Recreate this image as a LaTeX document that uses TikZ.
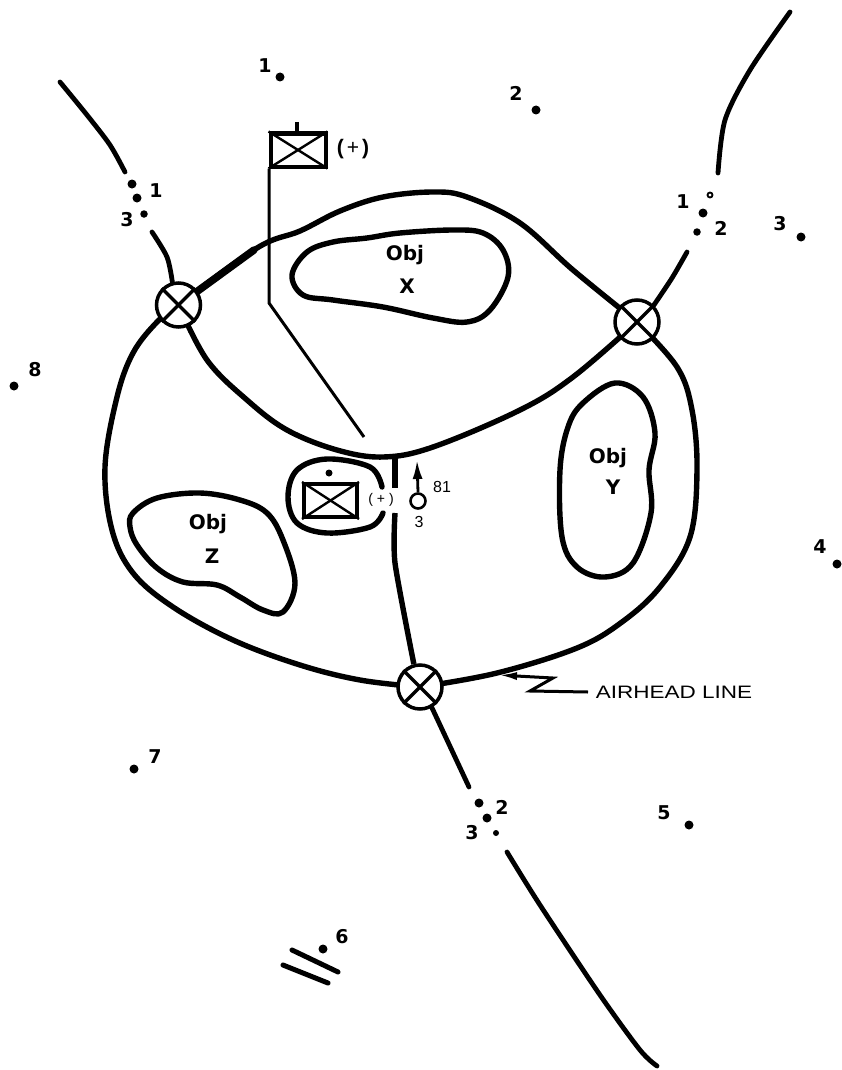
\documentclass[tikz,border=0pt]{standalone}
\usepackage{fontspec}
\setmainfont{Liberation Sans}
\newfontfamily\heavy{DejaVu Sans}
\usetikzlibrary{arrows.meta}
\tikzset{
  x=1pt,y=-1pt,
  airline/.style={line width=5.4pt,line cap=round,line join=round},
  road/.style={line width=4.8pt,line cap=round,line join=round},
  thinline/.style={line width=3pt,line join=miter},
  cp/.style={circle,line width=3.5pt,minimum size=44pt,inner sep=0pt},
  crossx/.style={line width=3.4pt},
  unitbox/.style={draw,line width=4pt,inner sep=0pt,fill=white},
  boxx/.style={line width=2.4pt},
  num/.style={font=\heavy\fontsize{19}{19}\selectfont\bfseries,inner sep=0pt},
  objt/.style={font=\heavy\fontsize{20}{20}\selectfont\bfseries,inner sep=0pt},
  small/.style={font=\fontsize{16}{16}\selectfont,inner sep=0pt},
  dotb/.style={circle,fill=black,inner sep=0pt,minimum size=9pt},
  dotm/.style={circle,fill=black,inner sep=0pt,minimum size=7.5pt},
  dots/.style={circle,fill=black,inner sep=0pt,minimum size=6pt},
}
\begin{document}
\begin{tikzpicture}
\useasboundingbox (0,0) rectangle (842,1070);
% control points
\node[cp] (A) at (178.5,305) {};
\node[cp] (B) at (637,322) {};
\node[cp] (C) at (420,687) {};
\coordinate (J) at (395,456);
% airhead line
\draw[airline] plot[smooth,tension=0.6] coordinates {(A.center) (157,322) (133,353) (117,397) (105,467) (112,530) (133,573) (173,607) (233,640) (300,665) (360,680) (C.center)};
\draw[airline] plot[smooth,tension=0.6] coordinates {(A.center) (257,248) (300,231) (340,211) (383,197) (433,192) (467,197) (520,223) (573,270) (B.center)};
\draw[line width=7.5pt,line cap=round] (A.center) -- (254,250);
\draw[airline] plot[smooth,tension=0.6] coordinates {(A.center) (207,360) (247,400) (287,430) (337,450) (383,457) (433,447) (520,410) (573,377) (B.center)};
\draw[airline] plot[smooth,tension=0.6] coordinates {(B.center) (677,367) (692,410) (697,470) (690,537) (660,587) (622,622) (577,648) (497,673) (C.center)};
% central boundary
\coordinate (V1) at (395,488);
\coordinate (V2) at (395,513);
\draw[line width=6pt] (J) -- (V1);
\draw[line width=5.4pt] plot[smooth,tension=0.4] coordinates {(V2) (395,563) (C.105)};
% roads
\coordinate (Sa) at (469,787);
\coordinate (Sb) at (507,852);
\coordinate (Se) at (657,1066);
\draw[road] (C.300) -- (Sa);
\draw[road] plot[smooth,tension=0.5] coordinates {(Sb) (540,905) (600,995) (640,1050) (Se)};
\coordinate (Wa) at (60,82);
\coordinate (Wb) at (125,172);
\coordinate (Wc) at (152,232);
\draw[road] plot[smooth,tension=0.5] coordinates {(Wa) (87,115) (110,145) (Wb)};
\draw[road] plot[smooth,tension=0.5] coordinates {(Wc) (167,257) (A.105)};
\coordinate (Ea) at (790,12);
\coordinate (Eb) at (718,173);
\coordinate (Ec) at (687,252);
\draw[road] plot[smooth,tension=0.5] coordinates {(Ea) (750,70) (725,120) (Eb)};
\draw[road] plot[smooth,tension=0.5] coordinates {(Ec) (672,278) (B.45)};
% control point symbols on top
\foreach \n in {A,B,C}{
  \draw[cp,draw,fill=white] (\n) circle (22);
  \draw[crossx] (\n.45) -- (\n.225);
  \draw[crossx] (\n.135) -- (\n.315);
}
% objectives
\draw[airline] plot[smooth cycle,tension=0.6] coordinates {(333,242) (307,252) (292,275) (303,295) (333,300) (383,307) (433,318) (467,322) (490,310) (508,277) (503,250) (483,233) (453,230) (400,233) (367,238)};
\draw[airline] plot[smooth cycle,tension=0.6] coordinates {(615,383) (583,403) (568,427) (560,470) (562,537) (577,567) (605,577) (633,563) (651,513) (649,470) (655,433) (643,397)};
\draw[airline] plot[smooth cycle,tension=0.6] coordinates {(133,513) (157,498) (200,493) (240,500) (267,513) (283,540) (295,583) (283,612) (263,610) (240,597) (217,585) (183,582) (157,568) (137,545) (130,527)};
\node[objt] (ox) at (405,255) {Obj};
\node[objt] (xx) at (407,286) {X};
\node[objt] (oy) at (608,458) {Obj};
\node[objt] (yy) at (613,487) {Y};
\node[objt] (oz) at (208,524) {Obj};
\node[objt] (zz) at (212,556) {Z};
% reserve unit flag
\node[unitbox,minimum width=55pt,minimum height=33pt] (F) at (298,150) {};
\draw[boxx] (F.north west) -- (F.south east);
\draw[boxx] (F.north east) -- (F.south west);
\coordinate (Ft) at (297,122);
\draw[line width=3.6pt] (Ft) -- (F.north-|Ft);
\node[font=\fontsize{21}{21}\selectfont,inner sep=0pt] (Fp) at (353,149) {{\bfseries(}\hspace{3pt}+\hspace{3pt}{\bfseries)}};
\coordinate (L1) at (269,303);
\coordinate (L3) at (364,437);
\draw[thinline] (F.south west-|L1) -- (L1) -- (L3);
% CP unit
\node[unitbox,minimum width=53pt,minimum height=33pt] (U) at (330.5,500.5) {};
\draw[boxx] (U.north west) -- (U.south east);
\draw[boxx] (U.north east) -- (U.south west);
\draw[line width=5.4pt,line cap=round] plot[smooth,tension=0.6] coordinates {(382,487) (370,467) (327,459) (297,470) (288,497) (297,523) (327,533) (370,527) (383,513)};
\node[dots,minimum size=7pt] (Ud) at (329,473) {};
\node[font=\fontsize{14}{14}\selectfont,inner sep=0pt,fill=white,minimum height=18pt] (Up) at (381,500) {(\hspace{4pt}+\hspace{4pt})};
% mortar
\node[circle,draw,line width=2.6pt,minimum size=15pt,inner sep=0pt] (M) at (418,501) {};
\coordinate (Mt) at (417,460);
\draw[line width=2.8pt,-{Latex[length=19pt,width=10pt]}] (M.north) -- (Mt);
\node[small] (M81) at (442,487) {81};
\node[small] (M3) at (419,522) {3};
% airhead label
\node[font=\fontsize{18}{18}\selectfont,inner sep=0pt,xscale=1.25] (AL) at (674,692) {AIRHEAD LINE};
\coordinate (Z0) at (498,675);
\coordinate (Z1) at (553,678);
\coordinate (Z2) at (530,691);
\coordinate (Z3) at (588,692);
\draw[line width=3pt,line join=miter,{Latex[length=19pt,width=8pt]}-] (Z0) -- (Z1) -- (Z2) -- (Z3);
% fires
\node[dotb] (p1) at (280,77) {}; \node[num] (n1) at (265,66) {1};
\node[dotb] (p2) at (536,110) {}; \node[num] (n2) at (516,93) {2};
\node[dotb] (p3) at (801,237) {}; \node[num] (n3) at (780,224) {3};
\node[dotb] (p4) at (837,564) {}; \node[num] (n4) at (820,547) {4};
\node[dotb] (p5) at (689,825) {}; \node[num] (n5) at (664,813) {5};
\node[dotb] (p6) at (323,949) {}; \node[num] (n6) at (342,937) {6};
\node[dotb] (p7) at (134,769) {}; \node[num] (n7) at (155,757) {7};
\node[dotb] (p8) at (14,386) {}; \node[num] (n8) at (35,370) {8};
\draw[line width=5pt,line cap=round] (292,950) -- (338,972);
\draw[line width=5pt,line cap=round] (283,965) -- (328,983);
% gap points: west
\node[dotb] (wa) at (132,184) {};
\node[dotb] (wb) at (137,198) {};
\node[dotm] (wc) at (144,214) {};
\node[num] (wn1) at (156,191) {1};
\node[num] (wn3) at (127,220) {3};
% east
\node[circle,draw,line width=1.8pt,minimum size=5pt,inner sep=0pt] (ea) at (710,195) {};
\node[dotb] (eb) at (703,213) {};
\node[dotm] (ec) at (697,232) {};
\node[num] (en1) at (683,202) {1};
\node[num] (en2) at (721,228) {2};
% south
\node[dotb] (sa) at (479,803) {};
\node[dotb] (sb) at (487,818) {};
\node[dots] (sc) at (496,833) {};
\node[num] (sn2) at (502,807) {2};
\node[num] (sn3) at (472,833) {3};
\end{tikzpicture}
\end{document}
